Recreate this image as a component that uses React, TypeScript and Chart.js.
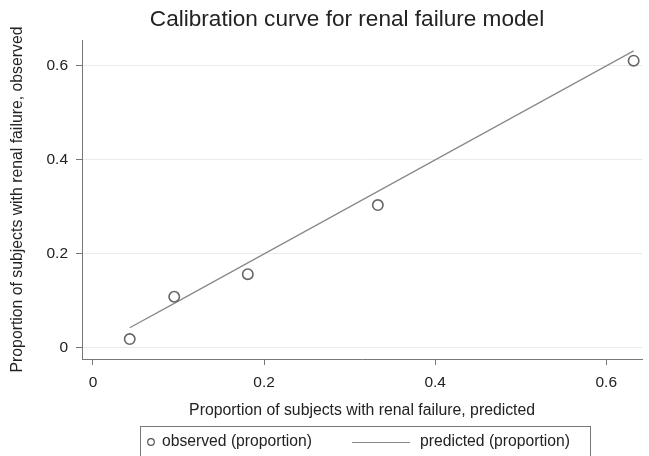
import React, { useEffect, useRef } from "react";
import { Chart, registerables } from "chart.js";

Chart.register(...registerables);

const predicted = [0.043, 0.095, 0.181, 0.333, 0.632];
const observed = [0.019, 0.109, 0.157, 0.304, 0.611];
const xTicks = [0, 0.2, 0.4, 0.6];
const yTicks = [0, 0.2, 0.4, 0.6];
const titleText = "Calibration curve for renal failure model";
const xTitle = "Proportion of subjects with renal failure, predicted";
const yTitle = "Proportion of subjects with renal failure, observed";
const seriesNames = ["observed (proportion)", "predicted (proportion)"];

const FONT = '"Liberation Sans", Arial, Helvetica, sans-serif';

const decor = {
  id: "decor",
  afterDraw(chart: any) {
    const ctx = chart.ctx as CanvasRenderingContext2D;
    ctx.save();
    // title
    ctx.fillStyle = "#222";
    ctx.font = `22.6px ${FONT}`;
    ctx.textAlign = "center";
    ctx.textBaseline = "middle";
    ctx.fillText(titleText, 347, 20);
    // legend box
    ctx.strokeStyle = "#777";
    ctx.lineWidth = 1;
    ctx.strokeRect(140.5, 426.5, 450, 40);
    // observed marker
    ctx.beginPath();
    ctx.arc(151, 442, 3.3, 0, Math.PI * 2);
    ctx.strokeStyle = "#555";
    ctx.lineWidth = 1.2;
    ctx.stroke();
    // predicted line
    ctx.beginPath();
    ctx.moveTo(352, 442.5);
    ctx.lineTo(410, 442.5);
    ctx.strokeStyle = "#888";
    ctx.lineWidth = 1;
    ctx.stroke();
    ctx.fillStyle = "#222";
    ctx.font = `15.7px ${FONT}`;
    ctx.textAlign = "left";
    ctx.textBaseline = "middle";
    ctx.fillText(seriesNames[0], 162, 442);
    ctx.fillText(seriesNames[1], 420, 442);
    ctx.restore();
  },
};

export default function App() {
  const ref = useRef<HTMLCanvasElement | null>(null);
  useEffect(() => {
    if (!ref.current) return;
    const chart = new Chart(ref.current, {
      type: "scatter",
      data: {
        datasets: [
          {
            label: seriesNames[0],
            data: predicted.map((p, i) => ({ x: p, y: observed[i] })),
            pointStyle: "circle",
            pointRadius: 5.2,
            pointBorderWidth: 1.6,
            pointBorderColor: "#666",
            pointBackgroundColor: "rgba(0,0,0,0)",
            showLine: false,
          },
          {
            label: seriesNames[1],
            data: predicted.map((p) => ({ x: p, y: p })),
            showLine: true,
            borderColor: "#8a8a8a",
            borderWidth: 1.3,
            pointRadius: 0,
            fill: false,
          },
        ],
      },
      options: {
        animation: false,
        responsive: false,
        maintainAspectRatio: false,
        layout: { padding: { top: 40, right: 4, bottom: 30, left: 0 } },
        plugins: {
          legend: { display: false },
          title: { display: false },
          tooltip: { enabled: false },
        },
        scales: {
          x: {
            type: "linear",
            min: -0.0128,
            max: 0.642,
            afterBuildTicks: (s: any) => {
              s.ticks = xTicks.map((v) => ({ value: v }));
            },
            afterFit: (s: any) => {
              s.height = 67;
            },
            ticks: {
              color: "#222",
              font: { family: FONT, size: 15.5 },
              padding: 8,
              maxRotation: 0,
              callback: (v: any) => String(v),
            },
            grid: {
              drawOnChartArea: false,
              tickLength: 6,
              tickColor: "#777",
            },
            border: { color: "#777", width: 1 },
            title: {
              display: true,
              text: xTitle,
              color: "#222",
              font: { family: FONT, size: 15.8 },
              padding: { top: 0, bottom: 6 },
            },
          },
          y: {
            type: "linear",
            min: -0.0234,
            max: 0.655,
            afterBuildTicks: (s: any) => {
              s.ticks = yTicks.map((v) => ({ value: v }));
            },
            afterFit: (s: any) => {
              s.width = 82;
            },
            ticks: {
              color: "#222",
              font: { family: FONT, size: 15.5 },
              padding: 8,
              callback: (v: any) => String(v),
            },
            grid: {
              color: "#ebebeb",
              lineWidth: 1,
              tickLength: 6,
              tickColor: "#777",
            },
            border: { color: "#777", width: 1 },
            title: {
              display: true,
              text: yTitle,
              color: "#222",
              font: { family: FONT, size: 15.8 },
              padding: { top: 8, bottom: 0 },
            },
          },
        },
      },
      plugins: [decor],
    });
    return () => chart.destroy();
  }, []);
  return (
    <div style={{ position: "fixed", left: 0, top: 0, width: 649, height: 456, background: "#fff" }}>
      <canvas ref={ref} width={649} height={456} style={{ width: 649, height: 456, display: "block" }} />
    </div>
  );
}
